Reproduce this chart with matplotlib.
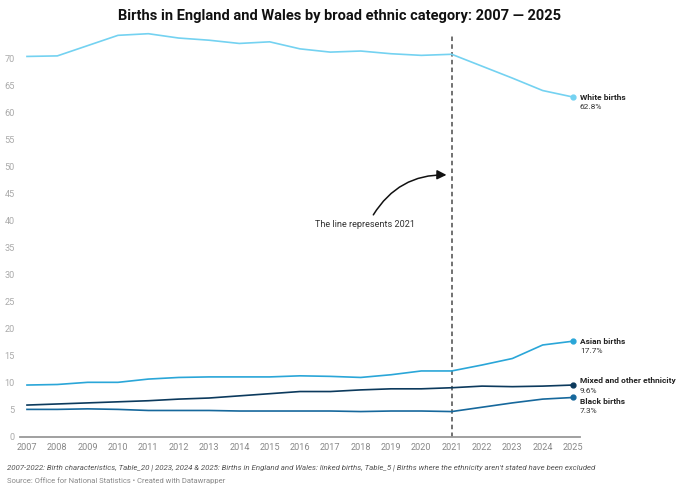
# Births in England and Wales by broad ethnic category, 2007-2025
from matplotlib import pyplot as plt
import numpy as np

plt.rcParams['font.family'] = ['Roboto', 'DejaVu Sans']

years = list(range(2007, 2026))
white = [70.3, 70.4, 72.3, 74.2, 74.5, 73.7, 73.3, 72.7, 73.0, 71.7, 71.1,
         71.3, 70.8, 70.5, 70.7, 68.5, 66.3, 64.0, 62.8]
asian = [9.6, 9.7, 10.1, 10.1, 10.7, 11.0, 11.1, 11.1, 11.1, 11.3, 11.2,
         11.0, 11.5, 12.2, 12.2, 13.3, 14.5, 17.0, 17.7]
mixed = [5.9, 6.1, 6.3, 6.5, 6.7, 7.0, 7.2, 7.6, 8.0, 8.4, 8.4,
         8.7, 8.9, 8.9, 9.1, 9.4, 9.3, 9.4, 9.6]
black = [5.1, 5.1, 5.2, 5.1, 4.9, 4.9, 4.9, 4.8, 4.8, 4.8, 4.8,
         4.7, 4.8, 4.8, 4.7, 5.5, 6.3, 7.0, 7.3]

# name, values, colour, vertical label shift (points)
series = [
    ("White births", white, "#74d2f1", 0),
    ("Asian births", asian, "#2aa6d8", 0),
    ("Mixed and other ethnicity", mixed, "#0c3a5d", 3),
    ("Black births", black, "#16689c", -3),
]
yticks = list(range(0, 75, 5))

fig = plt.figure(figsize=(6.8, 4.92), dpi=100)
ax = fig.add_axes([20/680, 1-437/492, 560/680, (437-31)/492])
ax.set_xlim(2006.77, 2025.23)
ax.set_ylim(0, 75)

for name, vals, col, dy in series:
    ax.plot(years, vals, color=col, linewidth=1.2, zorder=3)
    ax.plot(years[-1], vals[-1], 'o', color=col, markersize=3.5, zorder=4)
    ax.annotate(name, (years[-1], vals[-1]), xytext=(5, dy), textcoords='offset points',
                fontsize=6, fontweight='bold', color='#222222', va='center', ha='left')
    ax.annotate(f"{vals[-1]}%", (years[-1], vals[-1]), xytext=(5, dy - 7), textcoords='offset points',
                fontsize=6, color='#333333', va='center', ha='left')

# vertical line at 2021
ax.axvline(2021, ymin=0, ymax=0.99, color='#666666', linestyle=(0, (2.5, 1.8)), linewidth=1.3, zorder=2)
ax.annotate("", xy=(2020.92, 48.4), xytext=(2018.37, 40.6),
            arrowprops=dict(arrowstyle='-|>', color='#111111', lw=1.1,
                            mutation_scale=14, connectionstyle='arc3,rad=-0.3'))
ax.text(2018.15, 39.2, "The line represents 2021", fontsize=6.6, color='#333333',
        ha='center', va='center')

for s in ['top', 'right', 'left']:
    ax.spines[s].set_visible(False)
ax.spines['bottom'].set_color('#999999')
ax.spines['bottom'].set_linewidth(1.3)
ax.set_xticks(years)
ax.set_xticklabels([str(y) for y in years], fontsize=6.6, color='#888888')
ax.set_yticks(yticks)
ax.set_yticklabels([str(t) for t in yticks], fontsize=6.6, color='#aaaaaa')
ax.tick_params(axis='both', length=0)
ax.tick_params(axis='y', pad=4)
ax.tick_params(axis='x', pad=4)

fig.text(0.5, 1-16/492, "Births in England and Wales by broad ethnic category: 2007 — 2025",
         ha='center', va='center', fontsize=10.5, fontweight='bold', color='#111111')
fig.text(7/680, 1-468/492,
         "2007-2022: Birth characteristics, Table_20 | 2023, 2024 & 2025: Births in England and Wales: "
         "linked births, Table_5 | Births where the ethnicity aren't stated have been excluded",
         ha='left', va='center', fontsize=5.7, style='italic', color='#555555')
fig.text(7/680, 1-481/492, "Source: Office for National Statistics • Created with Datawrapper",
         ha='left', va='center', fontsize=5.5, color='#888888')

fig.savefig("out.png", dpi=100, facecolor='white')
